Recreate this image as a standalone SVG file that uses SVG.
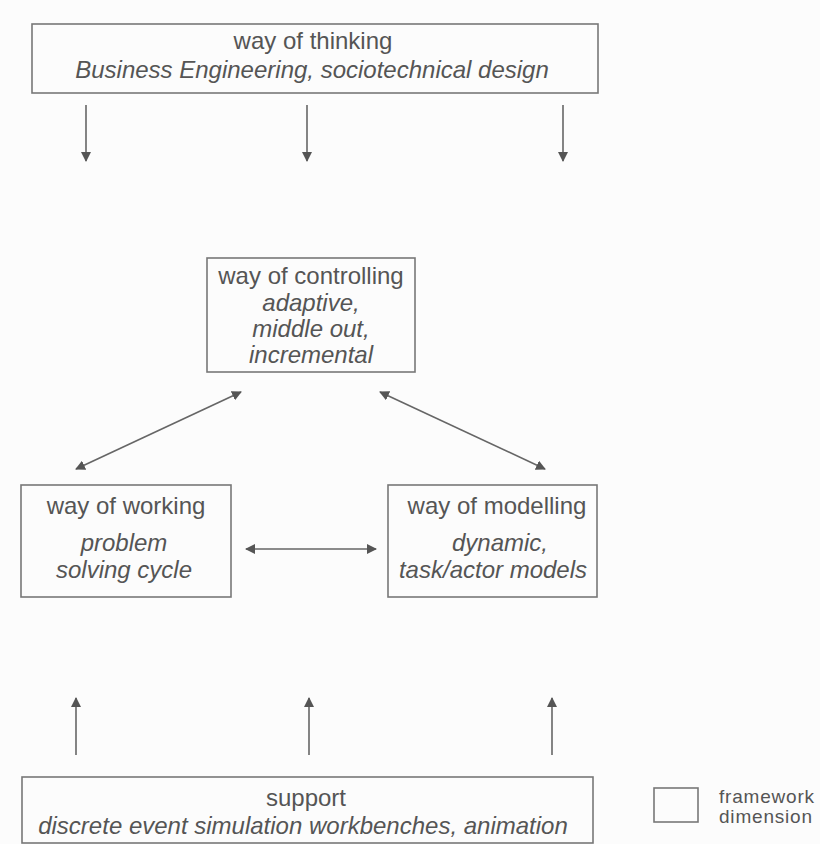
<svg xmlns="http://www.w3.org/2000/svg" width="820" height="844" viewBox="0 0 820 844">
  <defs>
    <marker id="head" viewBox="0 0 10 10" refX="9" refY="5" markerWidth="10" markerHeight="10" markerUnits="userSpaceOnUse" orient="auto-start-reverse">
      <path d="M0,0 L10,5 L0,10 Z" fill="#555"/>
    </marker>
    <style>
      .box { fill: none; stroke: #777; stroke-width: 1.6; }
      .t { font-family: "Liberation Sans", Arial, sans-serif; font-size: 24px; fill: #555; text-anchor: middle; }
      .i { font-style: italic; }
      .small { font-family: "Liberation Sans", Arial, sans-serif; font-size: 19px; fill: #555; letter-spacing: 0.8px; }
      .link { stroke: #666; stroke-width: 1.6; fill: none; }
    </style>
  </defs>

  <rect width="820" height="844" fill="#fcfcfc"/>

  <!-- framework dimensions -->
  <g id="thinking">
    <rect class="box" x="32" y="24" width="566" height="69"/>
    <text class="t" x="313" y="49">way of thinking</text>
    <text class="t i" x="312" y="78">Business Engineering, sociotechnical design</text>
  </g>

  <g id="controlling">
    <rect class="box" x="207" y="258" width="208" height="114"/>
    <text class="t" x="311" y="284">way of controlling</text>
    <text class="t i" x="311" y="311">adaptive,</text>
    <text class="t i" x="311" y="337">middle out,</text>
    <text class="t i" x="311" y="363">incremental</text>
  </g>

  <g id="working">
    <rect class="box" x="21" y="485" width="210" height="112"/>
    <text class="t" x="126" y="514">way of working</text>
    <text class="t i" x="124" y="551">problem</text>
    <text class="t i" x="124" y="578">solving cycle</text>
  </g>

  <g id="modelling">
    <rect class="box" x="388" y="485" width="209" height="112"/>
    <text class="t" x="497" y="514">way of modelling</text>
    <text class="t i" x="500" y="551">dynamic,</text>
    <text class="t i" x="493" y="578">task/actor models</text>
  </g>

  <g id="support">
    <rect class="box" x="22" y="777" width="571" height="66"/>
    <text class="t" x="306" y="806">support</text>
    <text class="t i" x="303" y="834">discrete event simulation workbenches, animation</text>
  </g>

  <!-- legend -->
  <g id="legend">
    <rect class="box" x="654" y="788" width="44" height="34"/>
    <text class="small" x="719" y="803">framework</text>
    <text class="small" x="719" y="823">dimension</text>
  </g>

  <!-- connectors -->
  <g id="connectors">
    <line class="link" x1="86" y1="105" x2="86" y2="161" marker-end="url(#head)"/>
    <line class="link" x1="307" y1="105" x2="307" y2="161" marker-end="url(#head)"/>
    <line class="link" x1="563" y1="105" x2="563" y2="161" marker-end="url(#head)"/>

    <line class="link" x1="76" y1="469" x2="241" y2="392" marker-start="url(#head)" marker-end="url(#head)"/>
    <line class="link" x1="380" y1="392" x2="545" y2="469" marker-start="url(#head)" marker-end="url(#head)"/>
    <line class="link" x1="246" y1="549" x2="376" y2="549" marker-start="url(#head)" marker-end="url(#head)"/>

    <line class="link" x1="76" y1="755" x2="76" y2="698" marker-end="url(#head)"/>
    <line class="link" x1="309" y1="755" x2="309" y2="698" marker-end="url(#head)"/>
    <line class="link" x1="552" y1="755" x2="552" y2="698" marker-end="url(#head)"/>
  </g>
</svg>
